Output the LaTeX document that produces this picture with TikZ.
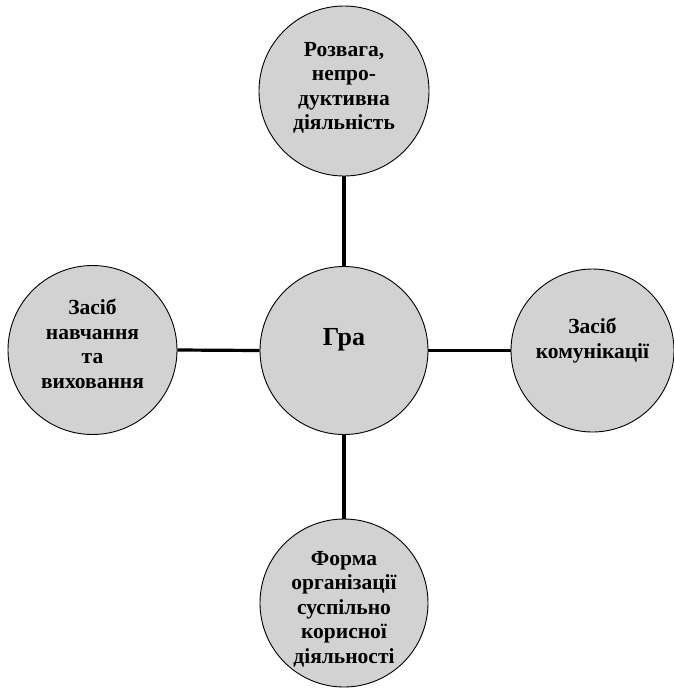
\documentclass[tikz,border=0pt]{standalone}
\usepackage{fontspec}
\setmainfont{Liberation Serif}
\definecolor{cfill}{RGB}{210,210,210}
\begin{document}
\begin{tikzpicture}[x=1pt,y=-1pt,
  circ/.style={circle,draw=black,line width=0.9pt,fill=cfill,inner sep=0pt},
  txt/.style={align=center,font=\bfseries\fontsize{21.5}{24.5}\selectfont,inner sep=0pt},
  big/.style={align=center,font=\bfseries\fontsize{26}{30}\selectfont,inner sep=0pt},
  conn/.style={line width=3.2pt,draw=black}]
\useasboundingbox (0,0) rectangle (673,689);
\node[circ,minimum size=170pt] (top) at (344,91) {};
\node[circ,minimum size=169pt] (left) at (92.5,350) {};
\node[circ,minimum size=168pt] (mid) at (344,350.5) {};
\node[circ,minimum size=163pt] (right) at (592.5,350.5) {};
\node[circ,minimum size=168pt] (bot) at (344,603) {};
\draw[conn] (top.south) -- (mid.north);
\draw[conn] (left.east) -- (mid.west);
\draw[conn] (mid.east) -- (right.west);
\draw[conn] (mid.south) -- (bot.north);
\node[txt] (ttop) at ([yshift=3pt]top.center) {Розвага,\\непро-\\дуктивна\\діяльність};
\node[txt] (tleft) at ([yshift=6pt]left.center) {Засіб\\навчання\\та\\виховання};
\node[big] (tmid) at ([yshift=11pt]mid.center) {Гра};
\node[txt] (tright) at ([yshift=10pt]right.center) {Засіб\\комунікації};
\node[txt] (tbot) at ([yshift=-6pt]bot.center) {Форма\\організації\\суспільно\\корисної\\діяльності};
\end{tikzpicture}
\end{document}
